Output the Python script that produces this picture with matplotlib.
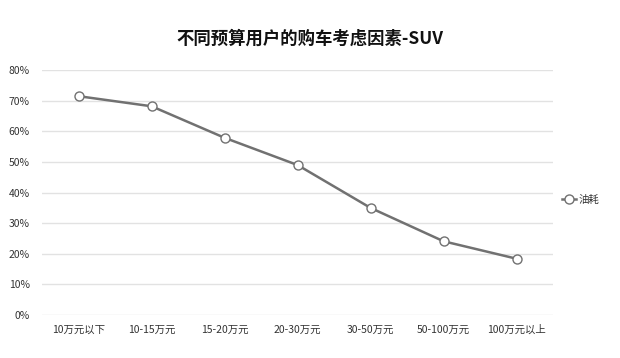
import numpy as np
import matplotlib.pyplot as plt
from matplotlib.ticker import FuncFormatter

plt.rcParams['font.family'] = ['Noto Sans CJK SC', 'DejaVu Sans']

categories = ["10万元以下", "10-15万元", "15-20万元", "20-30万元", "30-50万元", "50-100万元", "100万元以上"]
fuel = [71.5, 68.2, 57.9, 49.0, 35.0, 24.1, 18.4]
series_name = "油耗"
title = "不同预算用户的购车考虑因素-SUV"

fig = plt.figure(figsize=(6.2, 3.58), dpi=100)
ax = fig.add_axes([0.068, 0.12, 0.824, 0.684])

x = np.arange(len(categories))
ax.plot(x, fuel, color='#717171', lw=1.8, marker='o', markersize=6.5,
        markerfacecolor='white', markeredgecolor='#717171', markeredgewidth=1.0,
        label=series_name, zorder=3)

ax.set_xlim(-0.5, len(categories) - 0.5)
ax.set_ylim(0, 80)
ax.set_yticks(np.arange(0, 81, 10))
ax.yaxis.set_major_formatter(FuncFormatter(lambda v, p: "%d%%" % v))
ax.set_xticks(x)
ax.set_xticklabels(categories)
ax.grid(axis='y', color='#e2e2e2', lw=1.0)
ax.set_axisbelow(True)
for s in ax.spines.values():
    s.set_visible(False)
ax.tick_params(length=0, labelsize=7.5, colors='#333333')
ax.tick_params(axis='y', pad=9)
ax.tick_params(axis='x', pad=7)

fig.text(0.5, 0.893, title, ha='center', va='center', fontsize=12.5, fontweight='bold', color='#111111')

ax.legend(loc='center left', bbox_to_anchor=(1.0, 0.47), frameon=False, fontsize=7.5,
          handlelength=1.3, handletextpad=0.2, labelcolor='#333333')

fig.savefig('out.png', dpi=100, facecolor='white')
